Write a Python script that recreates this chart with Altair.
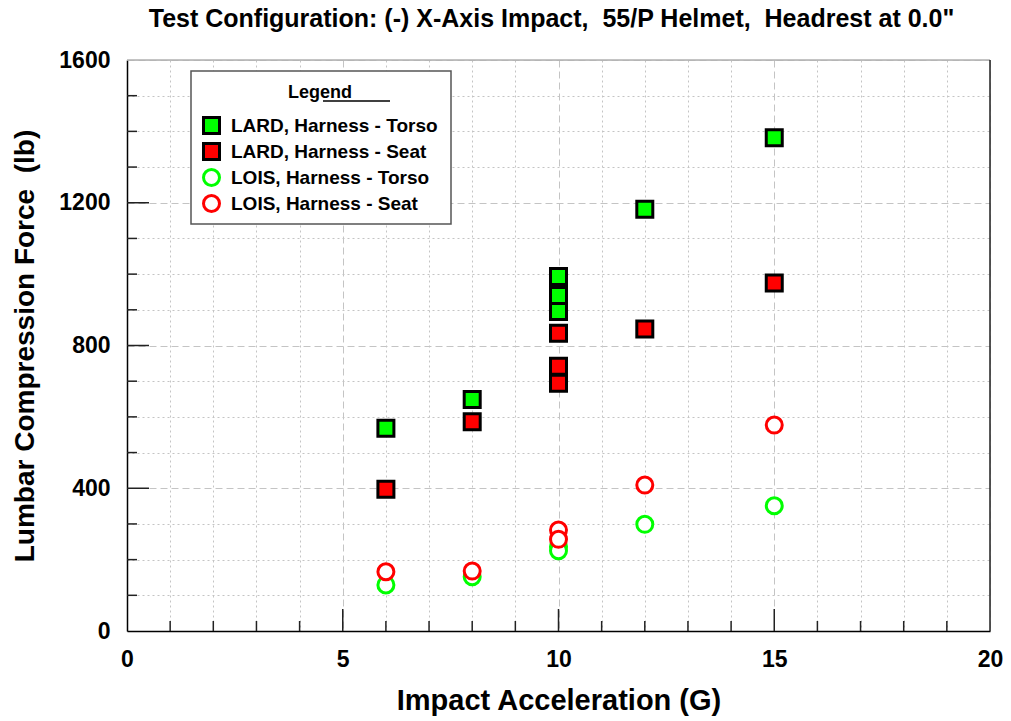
import altair as alt
import pandas as pd

FONT = "Liberation Sans"
NB = "\u00a0"

series_names = ["LARD, Harness - Torso", "LARD, Harness - Seat",
                "LOIS, Harness - Torso", "LOIS, Harness - Seat"]

lard_torso_x = [6, 8, 10, 10, 10, 12, 15]
lard_torso_y = [568, 649, 993, 940, 895, 1182, 1382]
lard_seat_x = [6, 8, 10, 10, 10, 12, 15]
lard_seat_y = [397, 586, 834, 742, 694, 846, 975]
lois_torso_x = [6, 8, 10, 10, 12, 15]
lois_torso_y = [129, 152, 236, 225, 299, 351]
lois_seat_x = [6, 8, 10, 10, 12, 15]
lois_seat_y = [166, 168, 283, 257, 409, 577]

x_ticks_major = [5, 10, 15]
x_ticks_minor = [v for v in range(1, 20) if v % 5 != 0]
y_ticks_major = [400, 800, 1200]
y_ticks_minor = [v for v in range(100, 1600, 100) if v % 400 != 0]

rows = []
for name, xs_, ys_ in [(series_names[0], lard_torso_x, lard_torso_y),
                       (series_names[1], lard_seat_x, lard_seat_y),
                       (series_names[2], lois_torso_x, lois_torso_y),
                       (series_names[3], lois_seat_x, lois_seat_y)]:
    for xv, yv in zip(xs_, ys_):
        rows.append({"G": xv, "lb": yv, "series": name})
df = pd.DataFrame(rows)

W, H = 863, 571

xs = alt.Scale(domain=[0, 20], nice=False, zero=False)
ys = alt.Scale(domain=[0, 1600], nice=False, zero=False)

xaxis = alt.Axis(
    title="Impact Acceleration (G)", values=list(range(0, 21)),
    labelExpr="datum.value % 5 === 0 ? datum.label : ''",
    format="d", labelFlush=False, labelOverlap=False, ticks=False,
    labelPadding=17, labelFont=FONT, labelFontSize=23, labelFontWeight="bold",
    labelColor="black",
    titleFont=FONT, titleFontSize=29, titleFontWeight="bold", titleColor="black",
    titleX=W / 2, titleY=78, titleBaseline="alphabetic", titleAlign="center",
    domainColor="black", domainWidth=1.5,
    grid=True, gridColor="#c4c4c4", gridWidth=1,
    gridDash={"condition": {"test": "datum.value % 5 === 0", "value": [7, 4]}, "value": [2, 3]},
)
yaxis = alt.Axis(
    title=f"Lumbar Compression Force {NB}(lb)", values=list(range(0, 1700, 100)),
    labelExpr="datum.value % 400 === 0 ? datum.label : ''",
    format="d", labelFlush=False, labelOverlap=False, ticks=False,
    labelPadding=17, labelFont=FONT, labelFontSize=23, labelFontWeight="bold",
    labelColor="black",
    titleFont=FONT, titleFontSize=28, titleFontWeight="bold", titleColor="black",
    titleX=-94, titleY=H / 2, titleBaseline="alphabetic", titleAlign="center", titleAngle=270,
    domainColor="black", domainWidth=1.5,
    grid=True, gridColor="#c4c4c4", gridWidth=1,
    gridDash={"condition": {"test": "datum.value % 400 === 0", "value": [7, 4]}, "value": [2, 3]},
)

legend = alt.Legend(
    title="Legend", orient="none", legendX=75, legendY=24, padding=0,
    titleAnchor="middle", titleFont=FONT, titleFontSize=18, titleFontWeight="bold",
    titleColor="black", titlePadding=14,
    labelFont=FONT, labelFontSize=19, labelFontWeight="bold", labelColor="black",
    labelOffset=10, rowPadding=-3, symbolStrokeWidth=3, labelLimit=400,
)

def X(field="G"):
    return alt.X(f"{field}:Q", scale=xs, axis=xaxis)

def Y(field="lb"):
    return alt.Y(f"{field}:Q", scale=ys, axis=yaxis)

one = alt.Data(values=[{"a": 1}])

legend_box = alt.Chart(one).mark_rect(fill="white", stroke="#555555", strokeWidth=1.5).encode(
    x=alt.value(64), x2=alt.value(324), y=alt.value(11), y2=alt.value(164)
)

underline = alt.Chart(one).mark_rule(color="black", strokeWidth=1.5).encode(
    x=alt.value(196), x2=alt.value(263), y=alt.value(41)
)

xt_major = alt.Chart(pd.DataFrame({"G": x_ticks_major})).mark_rule(color="#222", strokeWidth=1.5).encode(
    x=X(), y=alt.value(H), y2=alt.value(H - 22))
xt_minor = alt.Chart(pd.DataFrame({"G": x_ticks_minor})).mark_rule(color="#222", strokeWidth=1.5).encode(
    x=X(), y=alt.value(H), y2=alt.value(H - 10))
yt_major = alt.Chart(pd.DataFrame({"lb": y_ticks_major})).mark_rule(color="#222", strokeWidth=1.5).encode(
    y=Y(), x=alt.value(0), x2=alt.value(22))
yt_minor = alt.Chart(pd.DataFrame({"lb": y_ticks_minor})).mark_rule(color="#222", strokeWidth=1.5).encode(
    y=Y(), x=alt.value(0), x2=alt.value(10))

top_border = alt.Chart(pd.DataFrame({"lb": [1600]})).mark_rule(color="#b0b0b0", strokeWidth=1.5).encode(
    y=Y(), x=alt.value(0), x2=alt.value(W))
right_border = alt.Chart(pd.DataFrame({"G": [20]})).mark_rule(color="#222", strokeWidth=1.5).encode(
    x=X(), y=alt.value(0), y2=alt.value(H))

points = alt.Chart(df).mark_point(filled=True, strokeWidth=3, opacity=1).encode(
    x=X(), y=Y(),
    shape=alt.Shape("series:N", scale=alt.Scale(domain=series_names,
                    range=["square", "square", "circle", "circle"]), legend=legend),
    fill=alt.Fill("series:N", scale=alt.Scale(domain=series_names,
                  range=["#00ff00", "#ff0000", "white", "white"]), legend=legend),
    stroke=alt.Stroke("series:N", scale=alt.Scale(domain=series_names,
                      range=["black", "black", "#00ff00", "#ff0000"]), legend=legend),
    size=alt.Size("series:N", scale=alt.Scale(domain=series_names,
                  range=[256, 256, 180, 180]), legend=legend),
)

title_text = f'Test Configuration: (-) X-Axis Impact, {NB}55/P Helmet, {NB}Headrest at 0.0"'

chart = alt.layer(
    xt_major, xt_minor, yt_major, yt_minor, top_border, right_border,
    legend_box, underline, points
).properties(
    width=W, height=H,
    title=alt.TitleParams(
        title_text,
        font=FONT, fontSize=25, fontWeight="bold", color="black",
        anchor="middle", offset=17, dx=-7,
    ),
    padding={"left": 119, "top": 52, "right": 13, "bottom": 85},
    autosize=alt.AutoSizeParams(type="none"),
).configure_view(stroke=None).configure(background="white")

chart.save("out.html", embed_options={"renderer": "svg", "actions": False})
